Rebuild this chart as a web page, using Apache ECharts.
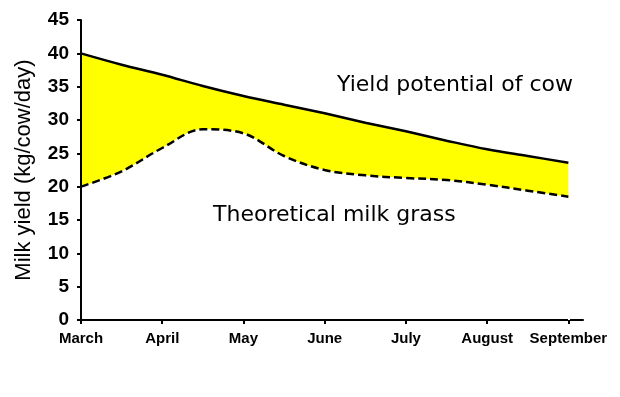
<!DOCTYPE html>
<html>
<head>
<meta charset="utf-8">
<script src="https://cdn.jsdelivr.net/npm/echarts@6/dist/echarts.min.js"></script>
<style>
  html, body { margin: 0; padding: 0; background: #fff; }
  #chart { width: 620px; height: 397px; }
</style>
</head>
<body>
<div id="chart"></div>
<script>
  // month tick labels
  var months = ['March', 'April', 'May', 'June', 'July', 'August', 'September'];
  var steps = [0, 0.5, 1, 1.5, 2, 2.5, 3, 3.5, 4, 4.5, 5, 5.5, 6];
  // yield potential of cow (solid line)
  var potential = [40, 38.3, 36.8, 35.1, 33.6, 32.3, 31.0, 29.6, 28.3, 26.9, 25.6, 24.6, 23.6];
  // theoretical milk from grass (dashed line)
  var grass = [20, 22.3, 25.8, 28.6, 28, 24.6, 22.5, 21.7, 21.3, 21.0, 20.3, 19.4, 18.5];
  var yTicks = [0, 5, 10, 15, 20, 25, 30, 35, 40, 45];

  function pairs(vals) {
    return steps.map(function (s, i) { return [s, vals[i]]; });
  }
  var monthIdx = months.map(function (m, i) { return i; });
  var SMOOTH = 0.35;
  var lastStep = steps[steps.length - 1];

  var chart = echarts.init(document.getElementById('chart'));
  chart.setOption({
    animation: false,
    grid: { left: 81, right: 37, top: 20, bottom: 77 },
    xAxis: {
      type: 'value',
      min: 0,
      max: 6.18,
      splitLine: { show: false },
      axisLine: { lineStyle: { color: '#000', width: 2 } },
      axisTick: { customValues: monthIdx, length: 4, lineStyle: { color: '#000', width: 2 } },
      axisLabel: {
        customValues: monthIdx,
        margin: 11,
        color: '#000',
        fontFamily: 'Liberation Sans, Arial',
        fontWeight: 'bold',
        fontSize: 15,
        formatter: function (v) { return months[Math.round(v)] || ''; }
      }
    },
    yAxis: {
      type: 'value',
      min: yTicks[0],
      max: yTicks[yTicks.length - 1],
      interval: 5,
      name: 'Milk yield (kg/cow/day)',
      nameLocation: 'middle',
      nameGap: 46,
      nameTextStyle: { color: '#000', fontFamily: 'Liberation Sans, Arial', fontSize: 22 },
      splitLine: { show: false },
      axisLine: { show: true, lineStyle: { color: '#000', width: 2 } },
      axisTick: { show: true, length: 4, lineStyle: { color: '#000', width: 2 } },
      axisLabel: {
        margin: 12,
        color: '#000',
        fontFamily: 'Liberation Sans, Arial',
        fontWeight: 'bold',
        fontSize: 19
      }
    },
    series: [
      // yellow under the potential curve, then white under the grass curve
      {
        type: 'line',
        z: -2,
        smooth: SMOOTH,
        symbol: 'none',
        silent: true,
        lineStyle: { opacity: 0 },
        areaStyle: { color: '#ffff00', opacity: 1 },
        data: pairs(potential)
      },
      {
        type: 'line',
        z: -1,
        smooth: SMOOTH,
        symbol: 'none',
        silent: true,
        lineStyle: { opacity: 0 },
        areaStyle: { color: '#ffffff', opacity: 1 },
        data: pairs(grass),
        // hide the anti-aliased yellow seam on the right edge
        markLine: {
          silent: true,
          symbol: 'none',
          label: { show: false },
          lineStyle: { color: '#fff', width: 2, type: 'solid' },
          data: [[{ coord: [lastStep, 0] }, { coord: [lastStep, grass[grass.length - 1] - 0.3] }]]
        }
      },
      {
        name: 'Yield potential of cow',
        type: 'line',
        smooth: SMOOTH,
        symbol: 'none',
        lineStyle: { color: '#000', width: 2.5 },
        data: pairs(potential)
      },
      {
        name: 'Theoretical milk grass',
        type: 'line',
        smooth: SMOOTH,
        symbol: 'none',
        lineStyle: { color: '#000', width: 2.5, type: [8, 4] },
        data: pairs(grass)
      }
    ],
    graphic: [
      {
        type: 'text', left: 337, top: 74,
        style: { text: 'Yield potential of cow', fill: '#000', font: '22px "DejaVu Sans"' }
      },
      {
        type: 'text', left: 213, top: 204,
        style: { text: 'Theoretical milk grass', fill: '#000', font: '22px "DejaVu Sans"' }
      }
    ]
  });
</script>
</body>
</html>
